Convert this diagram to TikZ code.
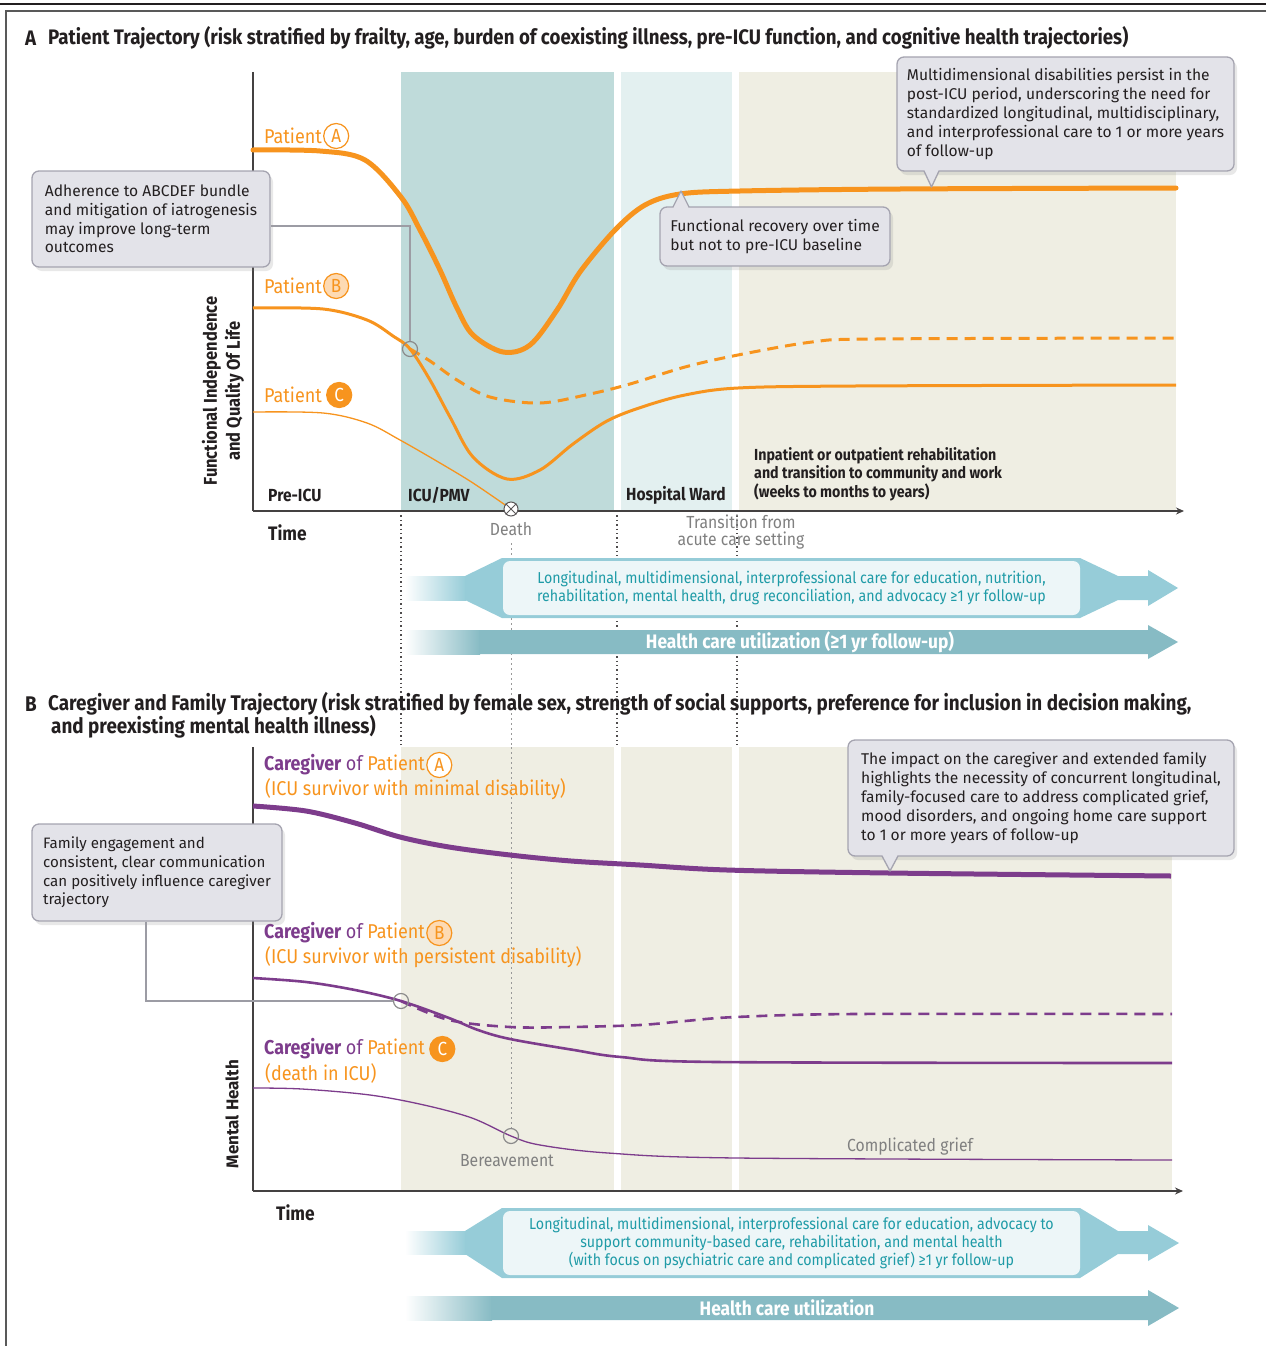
\documentclass[tikz,border=0pt]{standalone}
\usepackage{fontspec}
\setmainfont{Fira Sans}
\newfontfamily\ttlf[FakeStretch=0.89]{Fira Sans}
\newfontfamily\lblf[FakeStretch=0.9]{Fira Sans}
\newfontfamily\txtf{Fira Sans}
\usetikzlibrary{shadows,arrows.meta}
\definecolor{orng}{HTML}{F7941E}
\definecolor{orngl}{HTML}{FDDAB3}
\definecolor{purp}{HTML}{7D3C8C}
\definecolor{icu}{HTML}{BFDBDA}
\definecolor{ward}{HTML}{E3F0F0}
\definecolor{rehab}{HTML}{EFEEE3}
\definecolor{cfill}{HTML}{E3E3E9}
\definecolor{cdraw}{HTML}{A5A4B0}
\definecolor{arrA}{HTML}{96CCD8}
\definecolor{arrB}{HTML}{87BBC4}
\definecolor{innr}{HTML}{EDF6F8}
\definecolor{tealt}{HTML}{1F9BA7}
\definecolor{grayt}{HTML}{808080}
\definecolor{ink}{HTML}{231F20}
\definecolor{mark}{HTML}{8A8A8A}
\definecolor{connc}{HTML}{9C9CA4}
\tikzset{
 cbox/.style={draw=cdraw, line width=1.3pt, fill=cfill, rounded corners=7pt,
   drop shadow={opacity=0.18, shadow xshift=3pt, shadow yshift=-4pt},
   align=left, inner sep=0pt, text=ink, font=\txtf\fontsize{15.6}{18.8}\selectfont},
 ptrline/.style={draw=cdraw, line width=1.3pt, line join=round},
 conn/.style={draw=connc, line width=1.5pt},
 mk/.style={circle, draw=mark, line width=1.2pt, minimum size=15pt, inner sep=0pt},
 dotl/.style={draw=ink!80, line width=1.3pt, dash pattern=on 1.4pt off 3pt},
 dotd/.style={draw=grayt!80, line width=1pt, dash pattern=on 2pt off 3pt},
 axisl/.style={draw=ink!85, line width=1.5pt},
 ttl/.style={font=\ttlf\bfseries\fontsize{21}{23}\selectfont, text=ink, inner sep=0pt, anchor=west},
 ttlb/.style={font=\ttlf\bfseries\fontsize{21.2}{23}\selectfont, text=ink, inner sep=0pt, anchor=west},
 phase/.style={font=\ttlf\bfseries\fontsize{17.5}{18.5}\selectfont, text=ink, inner sep=0pt, anchor=west, align=left},
 plbl/.style={font=\lblf\fontsize{20}{23}\selectfont, text=orng, inner sep=0pt, anchor=west},
 glbl/.style={font=\lblf\fontsize{17.5}{16.5}\selectfont, text=grayt, inner sep=0pt, align=center},
 letr/.style={circle, draw=orng, line width=1.2pt, minimum size=25pt, inner sep=0pt, font=\lblf\fontsize{19}{22}\selectfont, anchor=west},
 inbox/.style={fill=innr, rounded corners=7pt, inner sep=0pt, align=center, text=tealt, font=\lblf\fontsize{15.8}{18}\selectfont},
 hcu/.style={font=\ttlf\bfseries\fontsize{19.5}{22}\selectfont, text=white, inner sep=0pt},
 cvA/.style={draw=orng, line width=5pt, line cap=round},
 cvB/.style={draw=orng, line width=3pt},
 cvC/.style={draw=orng, line width=1.3pt},
 gvA/.style={draw=purp, line width=5pt},
 gvB/.style={draw=purp, line width=2.6pt},
 gvC/.style={draw=purp, line width=1.3pt},
 dsh/.style={dash pattern=on 11pt off 7pt}
}
\newcommand{\cgword}{{\ttlf\bfseries\fontsize{20}{23}\selectfont\color{purp}Caregiver}{\color{purp}\ of\ }Patient}
\begin{document}
\begin{tikzpicture}[x=1pt,y=-1pt]
\useasboundingbox (0,0) rectangle (1266,1346);
% frame
\draw[ink, line width=2pt] (0,4) -- (1266,4);
\draw[gray!70!black, line width=1.5pt] (1266,11) -- (6,11) -- (6,1346);

% ===== Section A =====
\node[ttl] (tA1) at (25,38) {A};
\node[ttl] (tA2) at (48,38) {Patient Trajectory (risk stratified by frailty, age, burden of coexisting illness, pre-ICU function, and cognitive health trajectories)};

\fill[icu] (401,72) rectangle (614,511);
\fill[ward] (621,72) rectangle (732,511);
\fill[rehab] (739,72) rectangle (1176,511);

% dotted guides
\draw[dotl] (401,511) -- (401,745);
\draw[dotl] (617,511) -- (617,745);
\draw[dotl] (737,511) -- (737,745);
\draw[dotd] (511,543) -- (511,1128);

\draw[axisl] (253,72) -- (253,511);
\draw[axisl, -{Stealth[length=8pt,width=7pt]}] (253,511) -- (1184,511);

% curves A
\draw[cvA] plot[smooth, tension=0.55] coordinates {(253,150) (320,151) (365,160) (401,197) (420,230) (440,270) (457,308) (473,335) (503,352) (530,345) (557,310) (580,272) (615,230) (645,205) (680,194) (740,191) (900,189) (1176,188)};
\draw[cvB] plot[smooth, tension=0.55] coordinates {(253,308) (323,309) (367,320) (393,336) (410,349) (430,380) (450,417) (473,457) (507,479) (540,470) (573,444) (607,421) (642,407) (685,395) (738,388) (855,386) (1176,385)};
\draw[cvB, dsh] plot[smooth, tension=0.55] coordinates {(410,349) (430,361) (457,380) (490,397) (540,403) (590,394) (630,384) (685,367) (738,355) (812,342) (876,339) (1176,338)};
\draw[cvC] plot[smooth, tension=0.55] coordinates {(253,412) (323,413) (367,423) (400,440) (440,463) (473,483) (511,509)};

\node[mk] (mB) at (410,349) {};
\node[circle, draw=ink!75, fill=white, line width=1pt, minimum size=14pt, inner sep=0pt] (dth) at (511,509) {};
\draw[ink!75, line width=1pt] (dth.north west) -- (dth.south east) (dth.north east) -- (dth.south west);

% patient labels
\node[plbl] (pA) at (264,136) {Patient};
\node[letr, fill=white, text=orng] (lA) at ([xshift=1pt]pA.east) {A};
\node[plbl] (pB) at (264,286) {Patient};
\node[letr, fill=orngl, text=orng] (lB) at ([xshift=1pt]pB.east) {B};
\node[plbl] (pC) at (264,395) {Patient};
\node[letr, fill=orng, text=white] (lC) at ([xshift=4pt]pC.east) {C};

% phase labels
\node[phase] (ph1) at (268,495) {Pre-ICU};
\node[phase] (ph2) at (408,495) {ICU/PMV};
\node[phase] (ph3) at (626,495) {Hospital Ward};
\node[phase, font=\ttlf\bfseries\fontsize{16}{18.5}\selectfont] (ph4) at (754,474) {Inpatient or outpatient rehabilitation\\and transition to community and work\\(weeks to months to years)};
\node[phase, font=\ttlf\bfseries\fontsize{19.5}{20}\selectfont] (timeA) at (268,533) {Time};
\node[phase, anchor=center, align=center, rotate=90, font=\ttlf\bfseries\fontsize{18.5}{23}\selectfont] (yA) at (223,391) {Functional Independence\\and Quality Of Life};

\node[glbl] (death) at (511,529) {Death};
\node[glbl] (trans) at (741,532) {Transition from\\acute care setting};

% callouts A
\node[cbox, minimum width=238pt, minimum height=96pt] (cAdh) at (151,219) {Adherence to ABCDEF bundle\\and mitigation of iatrogenesis\\may improve long-term\\outcomes};
\draw[conn] ([yshift=-7pt]cAdh.east) -| (mB.north);

\node[cbox, minimum width=337pt, minimum height=114pt] (cTR) at (1065.5,114) {Multidimensional disabilities persist in the\\post-ICU period, underscoring the need for\\standardized longitudinal, multidisciplinary,\\and interprofessional care to 1 or more years\\of follow-up};
\fill[cfill] (924,169.3) -- (931.5,187) -- (939,169.3) -- cycle;
\draw[ptrline] (924,171) -- (931.5,187) -- (939,171);

\node[cbox, minimum width=230pt, minimum height=59pt] (cFR) at (775,236.5) {Functional recovery over time\\but not to pre-ICU baseline};
\fill[cfill] (673,208.7) -- (681,191) -- (689,208.7) -- cycle;
\draw[ptrline] (673,207) -- (681,191) -- (689,207);

% arrows A
\shade[left color=white, right color=arrA] (405,576) rectangle (466,600);
\fill[arrA] (465,576) -- (502,558) -- (1080,558) -- (1118,576) -- (1148,576) -- (1148,570) -- (1178,588) -- (1148,606) -- (1148,600) -- (1118,600) -- (1080,618) -- (502,618) -- (465,600) -- cycle;
\node[inbox, minimum width=577pt, minimum height=54pt] (carA) at (791.5,588) {Longitudinal, multidimensional, interprofessional care for education, nutrition,\\rehabilitation, mental health, drug reconciliation, and advocacy ≥1 yr follow-up};

\shade[left color=white, right color=arrB] (405,630) rectangle (480,654);
\fill[arrB] (479,630) -- (1148,630) -- (1148,625) -- (1178,642) -- (1148,659) -- (1148,654) -- (479,654) -- cycle;
\node[hcu] (hcA) at (800,642) {Health care utilization (≥1 yr follow-up)};

% ===== Section B =====
\node[ttlb] (tB1) at (25,704) {B};
\node[ttlb] (tB2) at (48,704) {Caregiver and Family Trajectory (risk stratified by female sex, strength of social supports, preference for inclusion in decision making,};
\node[ttlb] (tB3) at (51,727) {and preexisting mental health illness)};

\fill[rehab] (401,747) rectangle (614,1191);
\fill[rehab] (621,747) rectangle (732,1191);
\fill[rehab] (739,747) rectangle (1172,1191);
\draw[dotd] (511,747) -- (511,1128);

\draw[axisl] (253,747) -- (253,1191);
\draw[axisl, -{Stealth[length=8pt,width=7pt]}] (253,1191) -- (1183,1191);

\draw[gvA] plot[smooth, tension=0.55] coordinates {(253,806) (306,811) (355,823) (400,837) (449,847) (510,855) (571,861) (640,865) (727,870) (889,873) (1171,876)};
\draw[gvB] plot[smooth, tension=0.55] coordinates {(253,978) (306,982) (355,990) (401,1001) (449,1018) (478,1030) (510,1039) (574,1050) (621,1057) (717,1062) (1172,1063)};
\draw[gvB, dsh] plot[smooth, tension=0.55] coordinates {(401,1001) (449,1020) (510,1027) (571,1027) (640,1025) (685,1021) (736,1017) (855,1014) (1172,1014)};
\draw[gvC] plot[smooth, tension=0.55] coordinates {(253,1088) (302,1089) (370,1095) (424,1105) (472,1118) (511,1136) (540,1145) (608,1153) (737,1158) (1172,1160)};

\node[mk] (mCB) at (401,1001) {};
\node[mk] (mCC) at (511,1136) {};

% caregiver labels
\node[plbl] (gA) at (264,765) {\cgword};
\node[letr, fill=white, text=orng] (glA) at ([xshift=1pt]gA.east) {A};
\node[plbl] (gA2) at (265,789) {(ICU survivor with minimal disability)};
\node[plbl] (gB) at (264,933) {\cgword};
\node[letr, fill=orngl, text=orng] (glB) at ([xshift=1pt]gB.east) {B};
\node[plbl] (gB2) at (265,957) {(ICU survivor with persistent disability)};
\node[plbl] (gC) at (264,1049) {\cgword};
\node[letr, fill=orng, text=white] (glC) at ([xshift=4pt]gC.east) {C};
\node[plbl] (gC2) at (265,1073) {(death in ICU)};

\node[glbl] (bere) at (507,1161) {Bereavement};
\node[glbl] (cgr) at (910,1147) {Complicated grief};
\node[phase, font=\ttlf\bfseries\fontsize{19.5}{20}\selectfont] (timeB) at (276,1213) {Time};
\node[phase, anchor=center, rotate=90, font=\bfseries\fontsize{17}{18}\selectfont] (yB) at (232,1114) {Mental Health};

% callouts B
\node[cbox, minimum width=250pt, minimum height=97pt, font=\txtf\fontsize{15.1}{18.8}\selectfont] (cFam) at (157,872.5) {Family engagement and\\consistent, clear communication\\can positively influence caregiver\\trajectory};
\draw[conn] ([xshift=-11pt]cFam.south) |- (mCB.west);

\node[cbox, minimum width=386pt, minimum height=116pt] (cImp) at (1041,798) {The impact on the caregiver and extended family\\highlights the necessity of concurrent longitudinal,\\family-focused care to address complicated grief,\\mood disorders, and ongoing home care support\\to 1 or more years of follow-up};
\fill[cfill] (882,854.3) -- (890,871) -- (898,854.3) -- cycle;
\draw[ptrline] (882,856) -- (890,871) -- (898,856);

% arrows B
\shade[left color=white, right color=arrA] (405,1231) rectangle (466,1254);
\fill[arrA] (465,1231) -- (502,1208) -- (1080,1208) -- (1118,1231) -- (1148,1231) -- (1148,1225) -- (1179,1243) -- (1148,1261) -- (1148,1254) -- (1118,1254) -- (1080,1278) -- (502,1278) -- (465,1254) -- cycle;
\node[inbox, minimum width=577pt, minimum height=64pt] (carB) at (791.5,1243) {Longitudinal, multidimensional, interprofessional care for education, advocacy to\\support community-based care, rehabilitation, and mental health\\(with focus on psychiatric care and complicated grief) ≥1 yr follow-up};

\shade[left color=white, right color=arrB] (405,1296) rectangle (492,1320);
\fill[arrB] (491,1296) -- (1148,1296) -- (1148,1290) -- (1179,1308) -- (1148,1326) -- (1148,1320) -- (491,1320) -- cycle;
\node[hcu] (hcB) at (787,1308) {Health care utilization};
\end{tikzpicture}
\end{document}
